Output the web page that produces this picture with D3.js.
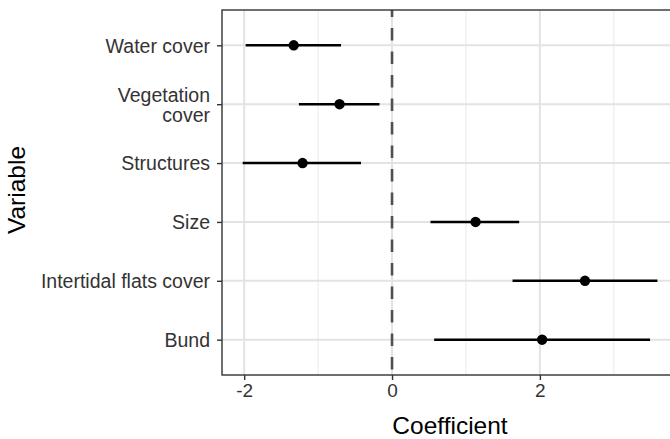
<!DOCTYPE html>
<html><head><meta charset="utf-8">
<script src="https://cdn.jsdelivr.net/npm/d3@7"></script>
<style>body{margin:0;background:#fff}svg{display:block}</style>
</head><body>
<script>
const variables = ["Water cover", "Vegetation\ncover", "Structures", "Size", "Intertidal flats cover", "Bund"];
const coef = [-1.33, -0.71, -1.21, 1.13, 2.61, 2.03];
const lower = [-1.98, -1.26, -2.02, 0.52, 1.63, 0.57];
const upper = [-0.69, -0.17, -0.42, 1.72, 3.59, 3.49];
const xTicks = [-2, 0, 2];
const xMinor = [-1, 1, 3];

const W = 670, H = 439;
const m = {left: 222, right: 0, top: 10, bottom: 64};
const FONT = "Liberation Sans, Arial, sans-serif";
const svg = d3.select("body").append("svg").attr("width", W).attr("height", H);

const x = d3.scaleLinear().domain([-2.3, 3.76]).range([m.left, W - m.right]);
const y = d3.scalePoint().domain(variables).range([m.top, H - m.bottom]).padding(0.6);

const g = svg.append("g");
g.selectAll(".minor").data(xMinor).join("line")
  .attr("x1", d => x(d)).attr("x2", d => x(d)).attr("y1", m.top).attr("y2", H - m.bottom)
  .attr("stroke", "#ebebeb").attr("stroke-width", 1.1);
g.selectAll(".majorx").data(xTicks).join("line")
  .attr("x1", d => x(d)).attr("x2", d => x(d)).attr("y1", m.top).attr("y2", H - m.bottom)
  .attr("stroke", "#e3e3e3").attr("stroke-width", 2);
g.selectAll(".majory").data(variables).join("line")
  .attr("x1", m.left).attr("x2", W - m.right).attr("y1", d => y(d)).attr("y2", d => y(d))
  .attr("stroke", "#e3e3e3").attr("stroke-width", 2);

g.append("line").attr("x1", x(0)).attr("x2", x(0)).attr("y1", m.top).attr("y2", H - m.bottom)
  .attr("stroke", "#505050").attr("stroke-width", 2.6).attr("stroke-dasharray", "12.5,11").attr("stroke-dashoffset", 5.5);

const rows = variables.map((v, i) => ({v, c: coef[i], lo: lower[i], hi: upper[i]}));
g.selectAll(".err").data(rows).join("line")
  .attr("x1", d => x(d.lo)).attr("x2", d => x(d.hi)).attr("y1", d => y(d.v)).attr("y2", d => y(d.v))
  .attr("stroke", "#000").attr("stroke-width", 2.6);
g.selectAll(".pt").data(rows).join("circle")
  .attr("cx", d => x(d.c)).attr("cy", d => y(d.v)).attr("r", 5.2).attr("fill", "#000");

svg.append("rect").attr("x", m.left).attr("y", m.top).attr("width", W - m.right - m.left + 2)
  .attr("height", H - m.bottom - m.top).attr("fill", "none").attr("stroke", "#333").attr("stroke-width", 1.4);

const xAxis = svg.append("g").attr("transform", `translate(0,${H - m.bottom})`)
  .call(d3.axisBottom(x).tickValues(xTicks).tickSize(5).tickPadding(4).tickFormat(d => d < 0 ? "-" + Math.abs(d) : d));
xAxis.select(".domain").remove();
xAxis.selectAll(".tick line").attr("stroke", "#333").attr("stroke-width", 1.4);
xAxis.selectAll("text").attr("font-family", FONT).attr("font-size", 19).attr("fill", "#333");

const yAxis = svg.append("g").attr("transform", `translate(${m.left},0)`)
  .call(d3.axisLeft(y).tickSize(5).tickPadding(6).tickFormat(""));
yAxis.select(".domain").remove();
yAxis.selectAll(".tick line").attr("stroke", "#333").attr("stroke-width", 1.4);
yAxis.selectAll(".tick").each(function(d) {
  const lines = d.split("\n");
  const t = d3.select(this).append("text").attr("x", -12).attr("text-anchor", "end")
    .attr("font-family", FONT).attr("font-size", 19.5).attr("fill", "#333");
  const lh = 20;
  lines.forEach((s, i) => {
    t.append("tspan").attr("x", -12).attr("y", (i - (lines.length - 1) / 2) * lh).attr("dy", "0.35em").text(s);
  });
});

svg.append("text").attr("x", 450).attr("y", 434).attr("text-anchor", "middle")
  .attr("font-family", FONT).attr("font-size", 24.5).attr("fill", "#000").text("Coefficient");
svg.append("text").attr("transform", `translate(25,190) rotate(-90)`).attr("text-anchor", "middle")
  .attr("font-family", FONT).attr("font-size", 24.5).attr("fill", "#000").text("Variable");
</script>
</body></html>
